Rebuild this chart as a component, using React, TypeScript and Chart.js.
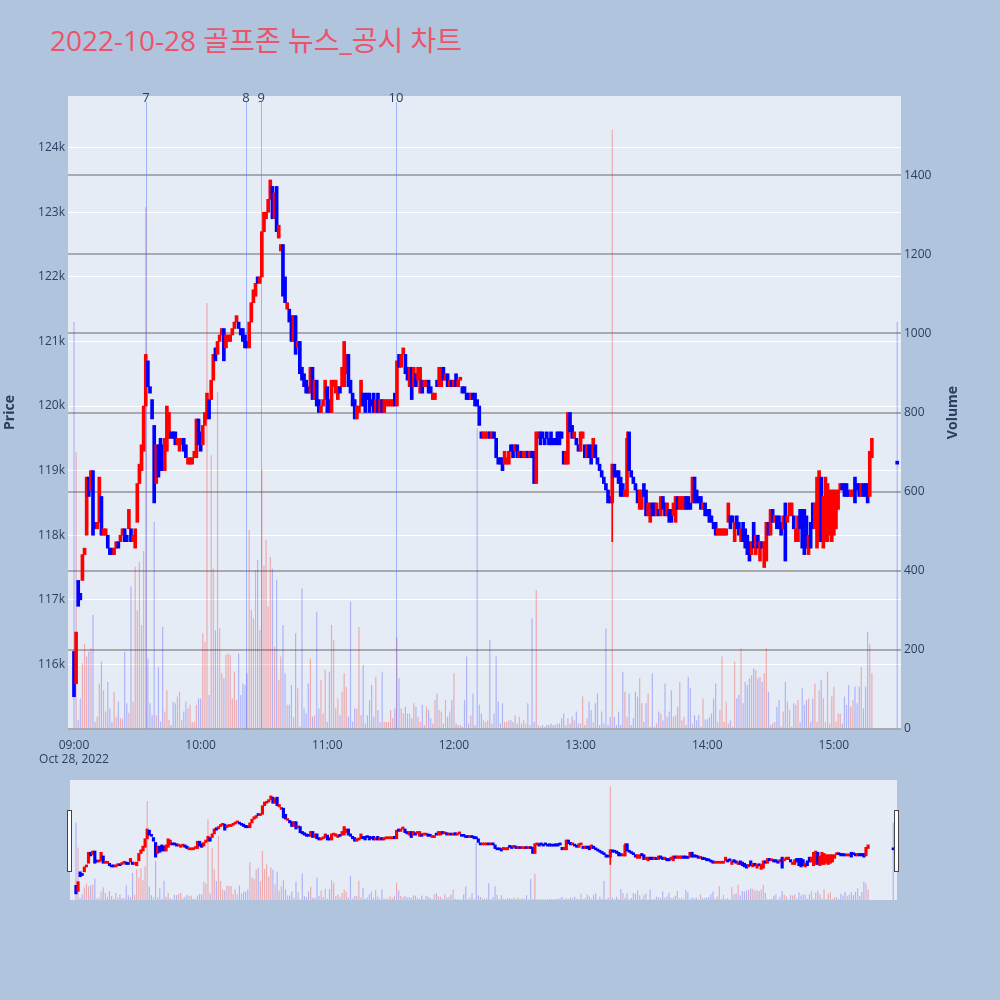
import React, { useEffect, useRef } from "react";
import { Chart, registerables } from "chart.js";

Chart.register(...registerables);
Chart.defaults.font.family = "'Open Sans', 'Noto Sans', 'Noto Sans CJK KR', sans-serif";

const chartTitle = "2022-10-28 골프존 뉴스_공시 차트";
const sessionDateLabel = "Oct 28, 2022";

// one candle per traded minute from 09:00 (prices in thousand won); last entry is the 15:30 closing auction
const opens = [
  116.2,115.7,117.3,117.1,117.3,117.7,118.0,118.9,118.7,119.0,
  118.2,118.1,118.2,118.6,118.0,118.0,118.0,117.8,117.8,117.7,
  117.8,117.9,117.9,118.0,118.1,118.0,118.1,118.1,117.9,117.8,
  118.2,118.8,119.0,119.3,120.0,120.7,120.3,120.1,119.7,118.8,
  119.4,119.5,119.4,119.0,119.3,119.5,119.6,119.6,119.6,119.4,
  119.3,119.4,119.5,119.4,119.1,119.1,119.1,119.2,119.2,119.8,
  119.6,119.4,119.7,119.8,120.1,120.1,120.4,120.9,120.8,121.0,
  121.1,121.2,120.9,121.0,121.0,121.1,121.2,121.3,121.3,121.2,
  121.2,121.1,121.0,120.9,121.3,121.6,121.7,122.0,121.9,122.0,
  122.7,122.9,123.0,123.2,123.4,122.9,123.4,122.6,122.4,122.5,
  122.0,121.5,121.5,121.4,121.0,121.4,120.9,121.0,120.6,120.5,
  120.4,120.3,120.2,120.6,120.1,120.4,120.1,119.9,120.0,120.1,
  120.3,120.1,119.9,120.3,120.2,120.1,120.3,120.3,120.3,120.5,
  120.8,120.4,120.2,120.1,119.8,119.9,120.0,120.2,120.2,120.2,
  120.2,120.1,120.2,119.9,120.2,119.9,120.1,119.9,120.0,120.0,
  120.0,120.0,120.2,120.0,120.8,120.6,120.8,120.8,120.6,120.3,
  120.6,120.3,120.5,120.4,120.2,120.4,120.3,120.3,120.4,120.3,
  120.1,120.1,120.4,120.3,120.3,120.6,120.4,120.5,120.3,120.4,
  120.3,120.5,120.3,120.4,120.3,120.3,120.2,120.2,120.1,120.2,
  120.2,120.1,120.0,119.6,119.5,119.5,119.5,119.6,119.5,119.6,
  119.5,119.2,119.2,119.2,119.1,119.1,119.1,119.4,119.4,119.3,
  119.4,119.2,119.3,119.2,119.2,119.3,119.2,119.3,119.3,118.8,
  119.5,119.6,119.6,119.5,119.6,119.5,119.6,119.5,119.5,119.6,
  119.6,119.6,119.3,119.1,119.1,119.9,119.7,119.5,119.5,119.4,
  119.3,119.5,119.4,119.2,119.4,119.4,119.2,119.4,119.2,119.1,
  119.0,118.9,118.8,118.7,118.6,118.5,119.1,119.0,119.0,118.9,
  118.8,118.6,118.6,119.6,119.0,118.9,118.8,118.7,118.4,118.4,
  118.8,118.7,118.3,118.2,118.5,118.5,118.3,118.4,118.3,118.6,
  118.5,118.3,118.4,118.4,118.3,118.2,118.6,118.4,118.4,118.4,
  118.6,118.6,118.5,118.5,118.9,118.7,118.6,118.6,118.4,118.5,
  118.4,118.4,118.3,118.2,118.2,118.0,118.0,118.0,118.0,118.0,
  118.2,118.3,118.3,117.9,118.3,118.2,117.9,118.2,118.1,118.0,
  117.9,117.7,118.2,117.7,118.0,117.6,117.9,117.5,117.6,118.2,
  118.0,118.4,118.2,118.3,118.3,118.2,118.1,118.5,118.2,118.3,
  118.3,118.3,117.9,117.9,118.4,118.4,118.4,118.3,117.7,118.2,
  118.5,118.1,117.8,117.9,118.9,117.8,117.9,117.9,118.0,117.9,
  118.0,118.1,118.4,118.7,118.8,118.8,118.8,118.7,118.6,118.6,
  118.9,118.8,118.8,118.6,118.8,118.8,118.8,118.6,119.2,
  119.12,
];

const closes = [
  115.5,116.5,116.9,117.0,117.7,117.8,118.9,118.6,119.0,118.0,
  118.1,118.2,118.9,118.0,118.1,118.1,117.8,117.7,117.7,117.8,
  117.9,117.8,118.0,118.1,117.9,117.9,118.4,117.9,118.0,118.1,
  118.8,119.1,119.4,120.0,120.8,120.3,120.2,119.8,118.5,119.4,
  118.9,119.0,119.0,119.5,120.0,119.9,119.5,119.5,119.4,119.5,
  119.5,119.5,119.3,119.2,119.2,119.2,119.2,119.3,119.8,119.4,
  119.3,119.7,119.9,120.2,119.8,120.4,120.8,120.7,121.0,121.1,
  121.2,120.7,121.1,121.1,121.1,121.2,121.3,121.4,121.2,121.1,
  121.0,120.9,120.9,121.3,121.6,121.8,121.9,121.9,122.0,122.7,
  123.0,123.0,123.2,123.5,122.9,123.3,122.7,122.8,122.5,121.7,
  121.6,121.6,121.3,121.0,121.4,120.8,121.0,120.5,120.4,120.3,
  120.2,120.2,120.6,120.1,120.4,120.0,119.9,120.0,120.1,120.4,
  119.9,119.9,120.4,120.4,120.4,120.3,120.2,120.6,121.0,120.8,
  120.3,120.2,120.0,119.8,120.0,120.0,120.4,120.0,119.9,120.1,
  119.9,120.0,119.9,120.1,119.9,120.1,119.9,120.1,120.1,120.1,
  120.1,120.1,120.0,120.7,120.6,120.8,120.9,120.5,120.4,120.6,
  120.1,120.6,120.3,120.6,120.6,120.2,120.4,120.4,120.2,120.2,
  120.2,120.2,120.3,120.6,120.6,120.4,120.5,120.3,120.4,120.3,
  120.4,120.3,120.4,120.4,120.2,120.2,120.1,120.1,120.2,120.1,
  120.0,120.0,119.7,119.5,119.6,119.6,119.6,119.5,119.6,119.5,
  119.2,119.1,119.1,119.0,119.3,119.2,119.3,119.3,119.2,119.4,
  119.2,119.3,119.2,119.3,119.3,119.2,119.3,119.2,118.8,119.6,
  119.6,119.4,119.5,119.4,119.5,119.4,119.4,119.4,119.4,119.4,
  119.4,119.5,119.1,119.3,119.9,119.6,119.5,119.6,119.4,119.3,
  119.6,119.6,119.2,119.4,119.2,119.1,119.5,119.2,119.1,119.0,
  118.9,118.8,118.7,118.5,118.5,119.1,118.9,118.9,118.8,118.6,
  118.6,118.7,119.5,119.0,118.9,118.8,118.7,118.5,118.7,118.7,
  118.6,118.3,118.5,118.5,118.3,118.3,118.5,118.3,118.6,118.4,
  118.3,118.5,118.2,118.2,118.5,118.6,118.4,118.6,118.6,118.6,
  118.4,118.4,118.4,118.9,118.5,118.5,118.5,118.4,118.5,118.3,
  118.3,118.2,118.2,118.1,118.0,118.1,118.1,118.1,118.1,118.1,
  118.5,118.1,118.2,118.2,118.1,118.0,118.1,117.9,117.8,117.7,
  117.6,117.9,117.8,118.0,117.8,117.9,117.8,117.9,118.2,118.0,
  118.4,118.2,118.3,118.1,118.1,118.0,118.3,117.6,118.3,118.5,
  118.5,118.1,118.1,118.3,118.1,117.8,117.7,117.8,118.0,117.8,
  118.1,118.5,118.9,119.0,117.9,118.6,118.9,118.8,118.7,118.7,
  118.7,118.7,118.7,118.8,118.7,118.6,118.6,118.6,118.7,118.7,
  118.5,118.7,118.6,118.8,118.6,118.6,118.5,119.3,119.5,
  119.1,
];

const volumes = [
  1029,700,23,77,166,216,183,195,204,288,
  18,31,115,170,98,44,119,52,18,94,
  31,69,27,27,195,65,41,360,69,410,
  300,422,263,450,1319,178,65,35,523,35,
  157,18,258,44,98,23,10,69,65,82,
  94,23,44,69,52,61,18,18,61,77,
  77,242,220,1077,86,692,406,250,852,254,
  141,128,187,191,187,77,145,73,191,86,
  115,111,141,503,301,280,402,427,250,655,
  413,478,310,435,405,208,377,124,183,263,
  141,61,61,111,31,242,103,6,355,52,
  39,115,178,31,35,296,52,124,39,149,
  18,145,263,225,52,77,35,94,141,107,
  31,322,18,52,52,258,35,162,14,35,
  73,111,31,132,48,18,145,18,18,18,
  48,27,52,232,128,52,39,56,39,39,
  27,65,56,31,18,61,10,56,48,27,
  14,73,90,48,44,14,73,31,44,73,
  141,14,10,10,6,73,183,14,35,90,
  10,760,61,39,22,18,22,225,14,39,
  183,69,14,65,18,18,22,22,18,35,
  14,31,14,22,14,65,10,280,18,351,
  10,6,10,6,10,10,14,10,10,14,
  14,27,39,10,27,14,31,22,44,14,
  14,82,10,27,69,48,18,65,90,10,
  44,14,254,10,31,1514,31,10,44,10,
  145,94,31,90,10,27,94,82,128,65,
  18,65,90,6,141,6,14,44,39,22,
  115,31,44,98,31,35,56,119,22,31,
  10,132,103,14,35,22,35,6,77,24,
  24,29,39,77,115,18,48,183,18,69,
  14,22,6,170,77,86,204,65,119,111,
  128,136,153,149,128,132,119,141,204,94,
  10,14,18,56,73,6,44,119,69,48,
  6,65,61,73,18,103,61,73,77,18,
  77,115,18,98,124,77,18,145,14,82,
  107,18,39,39,14,82,61,111,56,73,
  107,65,107,157,52,107,246,216,141,
  1029,
];

const closingAuctionMinute = 390;

// candles whose shadows reach beyond the body
const wickIndex = [255, 262];
const wickHigh = [119.1, 119.6];
const wickLow = [117.9, 118.6];

const newsLabels = ["7", "8", "9", "10"];
const newsTimes = ["09:34:05", "10:21:30", "10:28:40", "11:32:30"];

const priceTicks = [116, 117, 118, 119, 120, 121, 122, 123, 124];
const volumeTicks = [0, 200, 400, 600, 800, 1000, 1200, 1400];
const timeTicks = [0, 60, 120, 180, 240, 300, 360];

const PRICE_MIN = 115.0;
const PRICE_MAX = 124.8;
const VOLUME_MAX = 1600;
const X_MIN = -2.84;
const X_MAX = 391.8;

const UP = "#ff0000";
const DOWN = "#0000ff";
const UP_VOL = "rgba(255,0,0,0.28)";
const DOWN_VOL = "rgba(0,0,255,0.24)";
const AXIS_TEXT = "#2a3f5f";
const PLOT_BG = "#e5ecf6";
const PAGE_BG = "#b0c4de";

function timeToMinute(t: string): number {
  const [h, m, s] = t.split(":").map(Number);
  return (h - 9) * 60 + m + (s || 0) / 60;
}

function minuteLabel(v: number): string {
  const h = 9 + Math.floor(v / 60);
  const m = Math.round(v % 60);
  return `${String(h).padStart(2, "0")}:${String(m).padStart(2, "0")}`;
}

function makeDatasets(bodyW: number, wickW: number, volW: number, minLen: number): any[] {
  const xs = opens.map((_, i) => (i < opens.length - 1 ? i : closingAuctionMinute));
  const rising = opens.map((o, i) => closes[i] >= o);
  return [
    {
      type: "bar",
      label: "candles",
      data: xs.map((x, i) => ({ x, y: [opens[i], closes[i]] })),
      backgroundColor: rising.map((r) => (r ? UP : DOWN)),
      barThickness: bodyW,
      minBarLength: minLen,
      grouped: false,
      yAxisID: "y",
      order: 1,
    },
    {
      type: "bar",
      label: "wicks",
      data: wickIndex.map((idx, k) => ({ x: xs[idx], y: [wickLow[k], wickHigh[k]] })),
      backgroundColor: wickIndex.map((idx) => (rising[idx] ? UP : DOWN)),
      barThickness: wickW,
      grouped: false,
      yAxisID: "y",
      order: 2,
    },
    {
      type: "bar",
      label: "volume",
      data: xs.map((x, i) => ({ x, y: volumes[i] })),
      backgroundColor: rising.map((r) => (r ? UP_VOL : DOWN_VOL)),
      barThickness: volW,
      inflateAmount: 0,
      grouped: false,
      yAxisID: "y1",
      order: 3,
    },
  ];
}

const plotBgPlugin = {
  id: "plotBg",
  beforeDraw(chart: any) {
    const { ctx, chartArea: a } = chart;
    ctx.save();
    ctx.fillStyle = PLOT_BG;
    ctx.fillRect(a.left, a.top, a.right - a.left, a.bottom - a.top);
    ctx.restore();
  },
};

const newsPlugin = {
  id: "news",
  beforeDatasetsDraw(chart: any) {
    const { ctx, chartArea, scales } = chart;
    ctx.save();
    ctx.strokeStyle = "rgba(70,110,255,0.45)";
    ctx.lineWidth = 1;
    newsTimes.forEach((t) => {
      const x = Math.round(scales.x.getPixelForValue(timeToMinute(t))) + 0.5;
      ctx.beginPath();
      ctx.moveTo(x, chartArea.top + 6);
      ctx.lineTo(x, chartArea.bottom);
      ctx.stroke();
    });
    ctx.restore();
  },
  afterDraw(chart: any) {
    const { ctx, chartArea, scales } = chart;
    ctx.save();
    ctx.fillStyle = AXIS_TEXT;
    ctx.font = "13px 'Open Sans', sans-serif";
    ctx.textAlign = "center";
    ctx.textBaseline = "alphabetic";
    newsTimes.forEach((t, i) => {
      const x = scales.x.getPixelForValue(timeToMinute(t));
      ctx.fillText(newsLabels[i], x, chartArea.top + 6);
    });
    ctx.font = "bold 14px 'Open Sans', sans-serif";
    ctx.textBaseline = "middle";
    const midY = (chartArea.top + chartArea.bottom) / 2;
    const drawRot = (txt: string, x: number) => {
      ctx.save();
      ctx.translate(x, midY);
      ctx.rotate(-Math.PI / 2);
      ctx.fillText(txt, 0, 0);
      ctx.restore();
    };
    drawRot("Price", 10);
    drawRot("Volume", 953);
    ctx.restore();
  },
};

const tickFont = { family: "'Open Sans', sans-serif", size: 12 };

export default function App() {
  const mainRef = useRef<HTMLCanvasElement | null>(null);
  const sliderRef = useRef<HTMLCanvasElement | null>(null);

  useEffect(() => {
    if (!mainRef.current || !sliderRef.current) return;
    const main = new Chart(mainRef.current, {
      type: "bar",
      data: { datasets: makeDatasets(3, 1, 1.2, 3) },
      options: {
        animation: false,
        responsive: false,
        events: [],
        layout: { padding: { top: 96, left: 0, right: 0, bottom: 0 } },
        plugins: { legend: { display: false }, tooltip: { enabled: false }, title: { display: false } },
        scales: {
          x: {
            type: "linear",
            min: X_MIN,
            max: X_MAX,
            offset: false,
            grid: { display: false, drawTicks: false },
            border: { display: false },
            afterBuildTicks: (s: any) => {
              s.ticks = timeTicks.map((v) => ({ value: v }));
            },
            afterFit: (s: any) => {
              s.height = 41;
            },
            ticks: {
              autoSkip: false,
              maxRotation: 0,
              padding: 9,
              color: AXIS_TEXT,
              font: tickFont,
              callback: (v: any) => (Number(v) === 0 ? [minuteLabel(0), sessionDateLabel] : minuteLabel(Number(v))),
            },
          },
          y: {
            type: "linear",
            position: "left",
            min: PRICE_MIN,
            max: PRICE_MAX,
            grid: { color: "#ffffff", lineWidth: 1, drawTicks: false },
            border: { display: false },
            afterBuildTicks: (s: any) => {
              s.ticks = priceTicks.map((v) => ({ value: v }));
            },
            afterFit: (s: any) => {
              s.width = 68;
            },
            ticks: { padding: 3, color: AXIS_TEXT, font: tickFont, callback: (v: any) => `${v}k` },
          },
          y1: {
            type: "linear",
            position: "right",
            min: 0,
            max: VOLUME_MAX,
            grid: { color: "#a9a9ae", lineWidth: 2, drawTicks: false },
            border: { display: false },
            afterBuildTicks: (s: any) => {
              s.ticks = volumeTicks.map((v) => ({ value: v }));
            },
            afterFit: (s: any) => {
              s.width = 99;
            },
            ticks: { padding: 3, color: AXIS_TEXT, font: tickFont, callback: (v: any) => `${v}` },
          },
        },
      } as any,
      plugins: [plotBgPlugin, newsPlugin],
    });

    const slider = new Chart(sliderRef.current, {
      type: "bar",
      data: { datasets: makeDatasets(2.5, 1, 1.2, 2) },
      options: {
        animation: false,
        responsive: false,
        events: [],
        layout: { padding: { top: 10, left: 70, right: 103, bottom: 10 } },
        plugins: { legend: { display: false }, tooltip: { enabled: false }, title: { display: false } },
        scales: {
          x: { type: "linear", display: false, min: X_MIN, max: X_MAX, offset: false },
          y: { type: "linear", display: false, min: PRICE_MIN, max: PRICE_MAX },
          y1: { type: "linear", display: false, min: 0, max: VOLUME_MAX },
        },
      } as any,
      plugins: [plotBgPlugin],
    });

    return () => {
      main.destroy();
      slider.destroy();
    };
  }, []);

  const handle = (left: number): React.CSSProperties => ({
    position: "absolute",
    left,
    top: 810,
    width: 3,
    height: 60,
    background: "#ffffff",
    border: "1px solid #444444",
  });

  return (
    <div
      style={{
        position: "absolute",
        left: 0,
        top: 0,
        width: 1000,
        height: 1000,
        background: PAGE_BG,
        overflow: "hidden",
      }}
    >
      <div
        style={{
          position: "absolute",
          left: 50,
          top: 21,
          fontFamily: "'Open Sans', 'Noto Sans CJK KR', sans-serif",
          fontSize: 28,
          lineHeight: "38px",
          color: "#ec546a",
          whiteSpace: "nowrap",
        }}
      >
        {chartTitle}
      </div>
      <canvas
        ref={mainRef}
        width={1000}
        height={770}
        style={{ position: "absolute", left: 0, top: 0, width: 1000, height: 770, display: "block" }}
      />
      <canvas
        ref={sliderRef}
        width={1000}
        height={140}
        style={{ position: "absolute", left: 0, top: 770, width: 1000, height: 140, display: "block" }}
      />
      <div style={handle(67)} />
      <div style={handle(894)} />
    </div>
  );
}
